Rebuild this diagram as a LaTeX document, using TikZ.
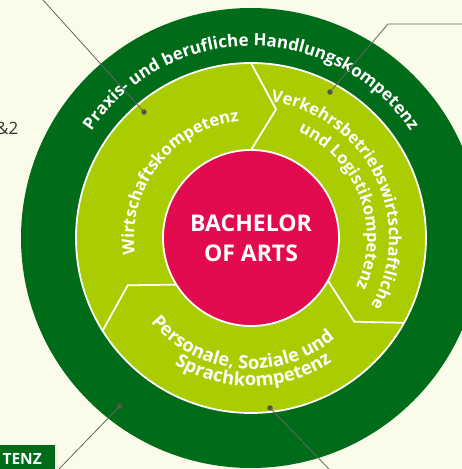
\documentclass[tikz,border=0pt]{standalone}
\usepackage{fontspec}
\setmainfont{Open Sans}
\usetikzlibrary{decorations.text,calc}
\definecolor{bgc}{HTML}{FAFBE9}
\definecolor{dkg}{HTML}{006B18}
\definecolor{ltg}{HTML}{A9CD00}
\definecolor{mag}{HTML}{E30B50}
\definecolor{lead}{HTML}{666666}
\newcommand\outerfont{\fontsize{17}{17}\selectfont\bfseries}
\newcommand\segfont{\fontsize{16.6}{17}\selectfont\bfseries}
\newcommand\botfont{\fontsize{18.4}{18}\selectfont\bfseries}
\begin{document}
\begin{tikzpicture}[x=1pt,y=1pt,
  leader/.style={draw=lead, line width=0.8pt},
  dot/.style={circle, fill=lead!80!black, minimum size=5.5pt, inner sep=0pt},
  sep/.style={draw=white, line width=1.8pt},
  ringtext/.style={decorate, decoration={text along path, text align=center, text color=white}}]
\useasboundingbox (0,0) rectangle (462,469);
\clip (0,0) rectangle (462,469);
\fill[bgc] (0,0) rectangle (462,469);
\coordinate (C) at (251,231);
% rings
\fill[dkg] (C) circle[radius=230pt];
\fill[ltg] (C) circle[radius=175pt];
\draw[sep] (C) circle[radius=175pt];
\fill[mag] (C) circle[radius=88pt];
\draw[sep] (C) circle[radius=88pt];
% chevron separators
\draw[sep] ($(C)+(90:175pt)$) -- ($(C)+(79:131pt)$) -- ($(C)+(90:88pt)$);
\draw[sep] ($(C)+(-29:175pt)$) -- ($(C)+(-39:133pt)$) -- ($(C)+(-29:88pt)$);
\draw[sep] ($(C)+(212:175pt)$) -- ($(C)+(201:132pt)$) -- ($(C)+(212:88pt)$);
% centre
\node[font=\fontsize{23}{30}\selectfont\bfseries, text=white, align=center] (title) at (C) {BACHELOR\\OF ARTS};
% curved texts
\path[ringtext, decoration={text={|\outerfont|Praxis- und berufliche Handlungskompetenz}}]
  ($(C)+(175:192pt)$) arc[start angle=175, end angle=5, radius=192pt];
\path[ringtext, decoration={text={|\segfont|Wirtschaftskompetenz}}]
  ($(C)+(232:117pt)$) arc[start angle=232, end angle=52, radius=117pt];
\path[ringtext, decoration={text={|\segfont|Verkehrsbetriebswirtschaftliche}}]
  ($(C)+(116:138pt)$) arc[start angle=116, end angle=-64, radius=138pt];
\path[ringtext, decoration={text={|\segfont|und Logistikompetenz}}]
  ($(C)+(110.5:116pt)$) arc[start angle=110.5, end angle=-69.5, radius=116pt];
\path[ringtext, decoration={text={|\botfont|Personale, Soziale und}}]
  ($(C)+(175:131pt)$) arc[start angle=175, end angle=355, radius=131pt];
\path[ringtext, decoration={text={|\botfont|Sprachkompetenz}}]
  ($(C)+(181:148pt)$) arc[start angle=181, end angle=361, radius=148pt];
% side texts
\node[font=\fontsize{17}{17}\selectfont, text=black!80, anchor=base east, inner sep=0pt] (amp) at (18.5,334) {\&2};
\fill[dkg] (0,0) rectangle (55,24);
\node[anchor=base east, text=white, font=\fontsize{15.5}{15}\selectfont\bfseries, inner sep=0pt] (tenz) at (42,4.5) {TENZ};
% leaders
\node[dot] (d1) at (144,357) {};
\coordinate (e1) at (43,469);
\draw[leader] (e1) -- (d1.center);
\node[dot] (d2) at (330,377) {};
\coordinate (k2) at (388,445);
\coordinate (e2) at (462,445);
\draw[leader] (e2) -- (k2) -- (d2.center);
\node[dot] (d3) at (120,63) {};
\coordinate (e3) at (59,0);
\draw[leader] (e3) -- (d3.center);
\node[dot] (d4) at (270,61) {};
\coordinate (e4) at (329,0);
\draw[leader] (e4) -- (d4.center);
\end{tikzpicture}
\end{document}
